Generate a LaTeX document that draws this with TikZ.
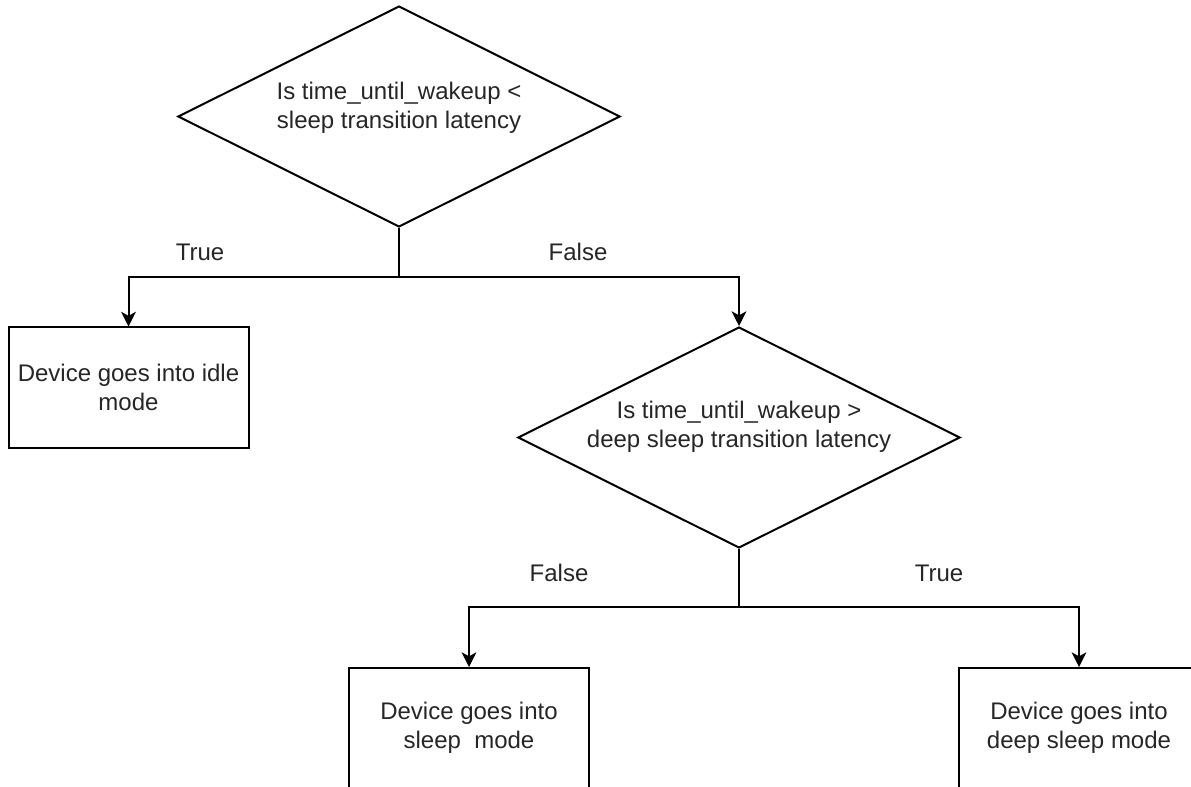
\documentclass[tikz,border=0pt]{standalone}
\usepackage{fontspec}
\setmainfont{Liberation Sans}
\usetikzlibrary{shapes.geometric,arrows.meta}

\tikzset{
  txt/.style={align=center, text=black!85, font=\fontsize{18pt}{21.75pt}\selectfont},
  decision/.style={diamond, draw, line width=1.5pt, minimum width=331.5pt, minimum height=165.75pt, inner sep=0pt},
  outcome/.style={rectangle, draw, line width=1.5pt, minimum width=180pt, minimum height=90pt, txt},
  flow/.style={line width=1.5pt, -{Stealth[length=11pt,width=11pt,inset=3pt]}},
}

\begin{document}
\begin{tikzpicture}[x=0.75pt, y=-0.75pt]

	\clip (0,0) rectangle (1191,787);
	\fill[white] (0,0) rectangle (1191,787);

	% first test: against the plain sleep latency
	\node[decision] (q1) at (399,116.5) {};
	\node[txt] (q1txt) at (399,107.5) {Is time\_until\_wakeup <\\sleep transition latency};
	\coordinate (split1) at (399,277);

	\node[outcome] (idle) at (128.5,387.5) {Device goes into idle\\mode};

	% second test: against the deep sleep latency
	\node[decision] (q2) at (739,437.5) {};
	\node[txt] (q2txt) at (739,427) {Is time\_until\_wakeup >\\deep sleep transition latency};
	\coordinate (split2) at (739,607);

	\node[outcome] (sleep) at (469,728) {Device goes into\\sleep~~mode};
	\node[outcome] (deep) at (1079,728) {Device goes into\\deep sleep mode};

	% branch labels
	\node[txt] (t1) at (200,252) {True};
	\node[txt] (f1) at (578,252) {False};
	\node[txt] (f2) at (559,573) {False};
	\node[txt] (t2) at (939,573) {True};

	% connectors
	\draw[line width=1.5pt] (q1.south) -- (split1);
	\draw[flow] (split1) -| (idle.north);
	\draw[flow] (split1) -| (q2.north);

	\draw[line width=1.5pt] (q2.south) -- (split2);
	\draw[flow] (split2) -| (sleep.north);
	\draw[flow] (split2) -| (deep.north);

\end{tikzpicture}
\end{document}
